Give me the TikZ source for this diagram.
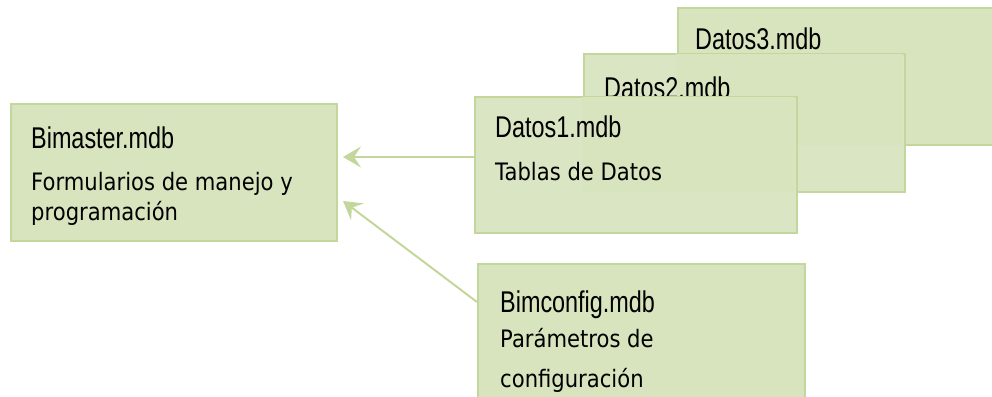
\documentclass[tikz,border=0pt]{standalone}
\usepackage{fontspec}
\setmainfont{Liberation Sans}
\newfontfamily\titlefont[FakeStretch=0.78]{Liberation Sans}
\newfontfamily\subfont[FakeStretch=0.88]{DejaVu Sans}
\usetikzlibrary{arrows.meta}
\definecolor{boxfill}{HTML}{D7E4BD}
\definecolor{boxlight}{HTML}{DAE6C3}
\definecolor{boxline}{HTML}{C3D69B}
\begin{document}
\begin{tikzpicture}[x=1pt,y=-1pt,
  box/.style={draw=boxline, line width=2pt, fill=boxfill, rectangle, anchor=north west, inner sep=0pt},
  ttl/.style={anchor=base west, inner sep=0pt, font=\titlefont\fontsize{30}{34}\selectfont, text=black},
  sub/.style={anchor=base west, inner sep=0pt, font=\subfont\fontsize{24}{28}\selectfont, text=black},
  conn/.style={draw=boxline, line width=2pt, -{Stealth[length=18pt,width=21pt,inset=7pt]}}]
\useasboundingbox (0,0) rectangle (992,396);
% Bimaster
\node[box, minimum width=326pt, minimum height=137pt] (bm) at (10,103) {};
\node[ttl] (bmt) at (31,148) {Bimaster.mdb};
\node[sub] (bms1) at (31,190) {Formularios de manejo y};
\node[sub] (bms2) at (31,220) {programación};
% Datos3
\node[box, minimum width=330pt, minimum height=137pt] (d3) at (677,7) {};
\node[ttl] (d3t) at (695,50) {Datos3.mdb};
% Datos2
\node[box, fill=boxlight, minimum width=321pt, minimum height=138pt] (d2) at (583,53) {};
\fill[boxfill] (676,54) rectangle (903,145);
\node[ttl] (d2t) at (604,98) {Datos2.mdb};
% Datos1
\node[box, fill=boxlight, minimum width=322pt, minimum height=136pt] (d1) at (474,96) {};
\fill[boxfill] (582,97) rectangle (795,192);
\node[ttl] (d1t) at (495,137) {Datos1.mdb};
\node[sub] (d1s) at (495,180) {Tablas de Datos};
% Bimconfig
\node[box, minimum width=327pt, minimum height=150pt] (bc) at (477,263) {};
\node[ttl] (bct) at (500,312) {Bimconfig.mdb};
\node[sub] (bcs1) at (500,347) {Parámetros de};
\node[sub] (bcs2) at (500,387) {configuración};
% connectors
\coordinate (tip1) at (343,157);
\coordinate (tip2) at (343,201);
\draw[conn] (d1.west |- tip1) -- (tip1);
\draw[conn] ([yshift=-39pt]bc.north west) -- (tip2);
\end{tikzpicture}
\end{document}
